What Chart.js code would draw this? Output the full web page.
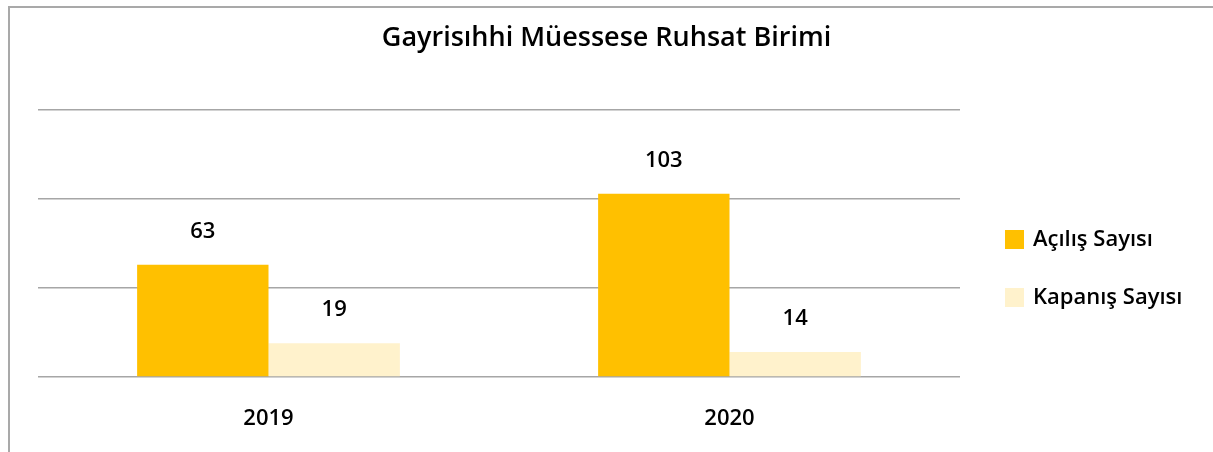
<!DOCTYPE html>
<html>
<head>
<meta charset="utf-8">
<script src="https://cdn.jsdelivr.net/npm/chart.js@4"></script>
<style>
  html, body { margin: 0; padding: 0; background: #fff; overflow: hidden; }
  #frame { position: absolute; left: 8px; top: 6px; width: 1300px; height: 500px;
           border-top: 2px solid #a9a9a9; border-left: 2px solid #a9a9a9; }
  #c { position: absolute; left: 0; top: 0; }
</style>
</head>
<body>
<div id="frame"></div>
<canvas id="c" width="1213" height="452"></canvas>
<script>
var years = ["2019", "2020"];
var acilis = [63, 103];
var kapanis = [19, 14];
var seriesNames = ["Açılış Sayısı", "Kapanış Sayısı"];
var seriesColors = ["#FFC000", "#FFF2CC"];
var chartTitle = "Gayrisıhhi Müessese Ruhsat Birimi";

var fontFam = "'Open Sans', 'Noto Sans', sans-serif";

// title centred on the whole canvas, not on the plot area
var pageTitle = {
    id: 'pageTitle',
    afterDraw: function (chart) {
        var ctx = chart.ctx;
        ctx.save();
        ctx.fillStyle = '#000';
        ctx.font = '600 27px ' + fontFam;
        ctx.textAlign = 'center';
        ctx.textBaseline = 'middle';
        ctx.fillText(chartTitle, chart.width / 2, 38);
        ctx.restore();
    }
};

// values above each bar
var valueLabels = {
    id: 'valueLabels',
    afterDatasetsDraw: function (chart) {
        var ctx = chart.ctx;
        ctx.save();
        ctx.fillStyle = '#000';
        ctx.font = '600 22px ' + fontFam;
        ctx.textAlign = 'center';
        ctx.textBaseline = 'middle';
        chart.data.datasets.forEach(function (ds, i) {
            chart.getDatasetMeta(i).data.forEach(function (bar, j) {
                ctx.fillText(ds.data[j], bar.x, bar.y - 33);
            });
        });
        ctx.restore();
    }
};

// legend on the right side
var sideLegend = {
    id: 'sideLegend',
    afterDraw: function (chart) {
        var ctx = chart.ctx;
        ctx.save();
        ctx.font = '600 22px ' + fontFam;
        ctx.textBaseline = 'middle';
        ctx.textAlign = 'left';
        chart.data.datasets.forEach(function (ds, i) {
            var y = 239.5 + i * 58;
            ctx.fillStyle = ds.backgroundColor;
            ctx.fillRect(1005, y - 9.5, 19, 19);
            ctx.fillStyle = '#000';
            ctx.fillText(ds.label, 1033, y);
        });
        ctx.restore();
    }
};

new Chart(document.getElementById('c').getContext('2d'), {
    type: 'bar',
    data: {
        labels: years,
        datasets: [
            { label: seriesNames[0], data: acilis, backgroundColor: seriesColors[0] },
            { label: seriesNames[1], data: kapanis, backgroundColor: seriesColors[1] }
        ]
    },
    options: {
        responsive: false,
        animation: false,
        layout: { padding: { left: 38, right: 253, top: 110, bottom: 0 } },
        datasets: { bar: { barPercentage: 1, categoryPercentage: 0.57 } },
        plugins: {
            legend: { display: false },
            tooltip: { enabled: false },
            title: { display: false }
        },
        scales: {
            x: {
                grid: { display: false },
                border: { display: false },
                ticks: { color: '#000', padding: 21, font: { family: fontFam, size: 22, weight: '600' } },
                afterFit: function (s) { s.height = 75; }
            },
            y: {
                min: 0, max: 150,
                ticks: { display: false, stepSize: 50 },
                grid: { color: '#a6a6a6', lineWidth: 1.5, drawTicks: false },
                border: { display: false },
                afterFit: function (s) { s.width = 0; }
            }
        }
    },
    plugins: [pageTitle, valueLabels, sideLegend]
});
</script>
</body>
</html>
